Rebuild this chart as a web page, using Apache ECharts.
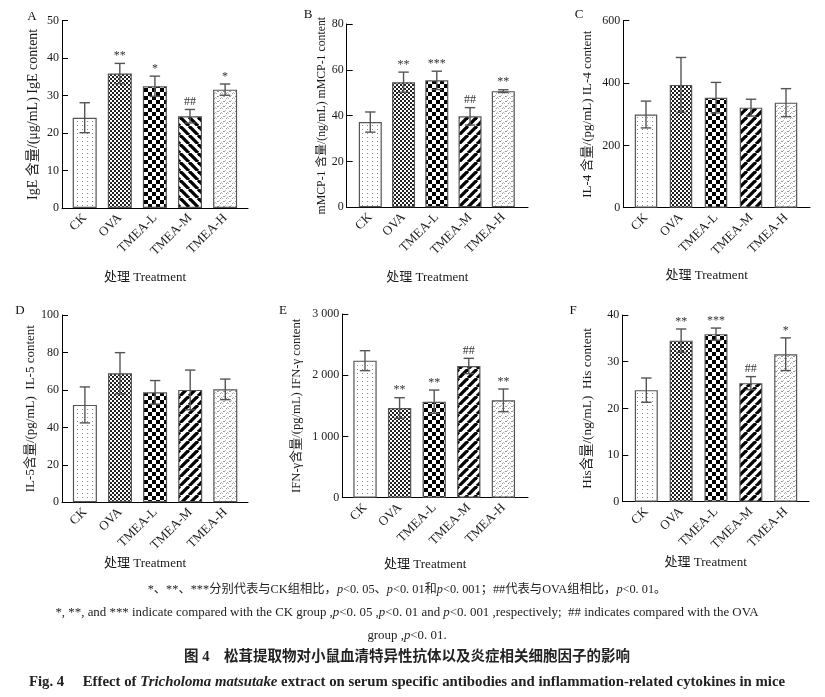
<!DOCTYPE html>
<html>
<head>
<meta charset="utf-8">
<script src="https://cdn.jsdelivr.net/npm/echarts@6/dist/echarts.min.js"></script>
<style>
html, body { margin: 0; padding: 0; background: #fff; }
#chart { width: 825px; height: 697px; }
</style>
</head>
<body>
<div id="chart"></div>
<script>
// 组别
var groups = ['CK', 'OVA', 'TMEA-L', 'TMEA-M', 'TMEA-H'];

// A IgE
var igeMean = [24.1, 35.9, 32.5, 24.5, 31.6];
var igeErr = [4.0, 2.7, 2.7, 1.8, 1.5];
var igeMark = ['', '**', '*', '##', '*'];
var igeTicks = [0, 50, 10];
// B mMCP-1
var mcpMean = [37.2, 54.6, 55.4, 39.7, 50.7];
var mcpErr = [4.4, 4.4, 4.0, 3.8, 0.6];
var mcpMark = ['', '**', '***', '##', '**'];
var mcpTicks = [0, 80, 20];
// C IL-4
var il4Mean = [299, 394, 353, 321, 337];
var il4Err = [43, 88, 49, 27, 45];
var il4Mark = ['', '', '', '', ''];
var il4Ticks = [0, 600, 200];
// D IL-5
var il5Mean = [52.0, 68.9, 58.7, 60.0, 60.3];
var il5Err = [9.6, 11.0, 6.3, 10.6, 5.5];
var il5Mark = ['', '', '', '', ''];
var il5Ticks = [0, 100, 20];
// E IFN-γ
var ifnMean = [2238, 1465, 1568, 2151, 1590];
var ifnErr = [163, 168, 190, 125, 185];
var ifnMark = ['', '**', '**', '##', '**'];
var ifnTicks = [0, 3000, 1000];
// F His
var hisMean = [23.9, 34.5, 35.9, 25.4, 31.6];
var hisErr = [2.6, 2.5, 1.3, 1.4, 3.5];
var hisMark = ['', '**', '***', '##', '*'];
var hisTicks = [0, 40, 10];

var SERIF = '"Liberation Serif", "Noto Sans CJK SC", serif';

// 填充图案
function tile(w, h, draw) {
    var c = document.createElement('canvas');
    c.width = w; c.height = h;
    var g = c.getContext('2d');
    g.fillStyle = '#fff';
    g.fillRect(0, 0, w, h);
    draw(g, w, h);
    return { image: c, repeat: 'repeat' };
}
var patDots = tile(5, 4, function(g) {
    g.fillStyle = '#888';
    g.fillRect(2, 1, 1, 1);
});
var patFine = tile(4, 4, function(g) {
    g.fillStyle = '#222';
    g.fillRect(0, 0, 2, 2);
    g.fillRect(2, 2, 2, 2);
});
var patCheck = tile(8, 8, function(g) {
    g.fillStyle = '#000';
    g.fillRect(0, 0, 4, 4);
    g.fillRect(4, 4, 4, 4);
});
function stripes(back) {
    return tile(9, 9, function(g, w, h) {
        g.strokeStyle = '#000';
        g.lineWidth = 3.3;
        for (var o = -w; o <= w; o += w) {
            g.beginPath();
            if (back) { g.moveTo(o, 0); g.lineTo(o + w, h); }
            else { g.moveTo(o, h); g.lineTo(o + w, 0); }
            g.stroke();
        }
    });
}
var patSpeck = tile(6, 5, function(g) {
    g.fillStyle = '#999';
    g.fillRect(1, 1, 2, 1);
    g.fillRect(4, 3, 1, 1);
    g.fillStyle = '#bbb';
    g.fillRect(0, 3, 1, 1);
    g.fillRect(3, 0, 1, 1);
    g.fillRect(5, 2, 1, 1);
});
var patsBack = [patDots, patFine, patCheck, stripes(true), patSpeck];
var patsFwd = [patDots, patFine, patCheck, stripes(false), patSpeck];

// 各子图布局
var panels = [
    { tag: 'A', name: 'IgE 含量/(μg/mL) IgE content', mean: igeMean, err: igeErr, mark: igeMark, ticks: igeTicks, pats: patsBack,
      ax: 62, top: 20.7, bottom: 208, right: 248, c0: 84.7, s: 35.1, bw: 24, ng: 22, nf: 14, xg: 63, lx: 32, ly: 17 },
    { tag: 'B', name: 'mMCP-1 含量/(ng/mL) mMCP-1 content', mean: mcpMean, err: mcpErr, mark: mcpMark, ticks: mcpTicks, pats: patsFwd,
      ax: 346.7, top: 24, bottom: 207.3, right: 528, c0: 370.3, s: 33.25, bw: 23, ng: 18, nf: 11.8, xg: 64, lx: 308, ly: 15 },
    { tag: 'C', name: 'IL-4 含量/(pg/mL) IL-4 content', mean: il4Mean, err: il4Err, mark: il4Mark, ticks: il4Ticks, pats: patsFwd,
      ax: 623.3, top: 20.7, bottom: 207.7, right: 810, c0: 646, s: 35, bw: 22.5, ng: 29, nf: 13, xg: 61, lx: 579, ly: 15 },
    { tag: 'D', name: 'IL-5含量/(pg/mL)  IL-5 content', mean: il5Mean, err: il5Err, mark: il5Mark, ticks: il5Ticks, pats: patsFwd,
      ax: 62, top: 315, bottom: 502.3, right: 248, c0: 84.9, s: 35.1, bw: 24, ng: 24, nf: 13, xg: 55, lx: 20, ly: 311 },
    { tag: 'E', name: 'IFN-γ含量/(pg/mL) IFN-γ content', mean: ifnMean, err: ifnErr, mark: ifnMark, ticks: ifnTicks, pats: patsFwd,
      ax: 342.3, top: 314, bottom: 497.7, right: 528, c0: 365, s: 34.6, bw: 23.3, ng: 39, nf: 12.6, xg: 60, lx: 283, ly: 311 },
    { tag: 'F', name: 'His含量/(ng/mL)  His content', mean: hisMean, err: hisErr, mark: hisMark, ticks: hisTicks, pats: patsFwd,
      ax: 622.3, top: 315, bottom: 501.7, right: 809, c0: 646.3, s: 34.85, bw: 23, ng: 28, nf: 13.3, xg: 54, lx: 573, ly: 311 }
];

function thousands(v) {
    return String(v).replace(/\B(?=(\d{3})+(?!\d))/g, ' ');
}

function errorBar(mark) {
    return function(params, api) {
        var i = api.value(0);
        var hi = api.coord([i, api.value(1) + api.value(2)]);
        var lo = api.coord([i, api.value(1) - api.value(2)]);
        var st = { stroke: '#555', lineWidth: 1.4 };
        var cw = 5.2;
        var ch = [
            { type: 'line', shape: { x1: hi[0], y1: hi[1], x2: lo[0], y2: lo[1] }, style: st },
            { type: 'line', shape: { x1: hi[0] - cw, y1: hi[1], x2: hi[0] + cw, y2: hi[1] }, style: st },
            { type: 'line', shape: { x1: lo[0] - cw, y1: lo[1], x2: lo[0] + cw, y2: lo[1] }, style: st }
        ];
        var m = mark[params.dataIndex];
        if (m) {
            ch.push({ type: 'text', x: hi[0], y: hi[1] - 1.5,
                style: { text: m, align: 'center', verticalAlign: 'bottom', fontSize: 12, fontFamily: SERIF, fill: '#333' } });
        }
        return { type: 'group', children: ch };
    };
}

var grid = [], xAxis = [], yAxis = [], series = [], graphic = [];
panels.forEach(function(p, k) {
    var gl = p.c0 - p.s / 2;
    // 柱状区
    grid.push({ left: gl, width: p.s * 5, top: p.top, height: p.bottom - p.top });
    // 长坐标轴线
    grid.push({ left: p.ax, width: p.right - p.ax, top: p.top, height: p.bottom - p.top });
    xAxis.push({
        type: 'category', gridIndex: 2 * k, data: groups,
        axisLine: { show: false }, axisTick: { show: false },
        axisLabel: { rotate: 45, margin: 8, fontSize: 13, fontFamily: SERIF, color: '#1a1a1a', interval: 0 }
    });
    xAxis.push({
        type: 'category', gridIndex: 2 * k + 1, data: groups,
        axisLine: { lineStyle: { color: '#000', width: 1 } }, axisTick: { show: false }, axisLabel: { show: false },
        name: '处理 Treatment', nameLocation: 'middle', nameGap: p.xg,
        nameTextStyle: { fontSize: 13, fontFamily: SERIF, color: '#1a1a1a', padding: [0, 20, 0, 0] }
    });
    yAxis.push({
        type: 'value', gridIndex: 2 * k, min: p.ticks[0], max: p.ticks[1], interval: p.ticks[2],
        offset: gl - p.ax,
        axisLine: { show: true, lineStyle: { color: '#000', width: 1 } },
        axisTick: { show: true, inside: true, length: 6, lineStyle: { color: '#000' } },
        axisLabel: { margin: 3, fontSize: 12, fontFamily: SERIF, color: '#1a1a1a', formatter: thousands },
        splitLine: { show: false },
        name: p.name, nameLocation: 'middle', nameRotate: 90, nameGap: p.ng,
        nameTextStyle: { fontSize: p.nf, fontFamily: SERIF, color: '#1a1a1a' }
    });
    yAxis.push({ type: 'value', gridIndex: 2 * k + 1, show: false });
    series.push({
        type: 'bar', xAxisIndex: 2 * k, yAxisIndex: 2 * k, barWidth: p.bw,
        data: p.mean.map(function(v, i) {
            return { value: v, itemStyle: { color: p.pats[i] } };
        }),
        itemStyle: { borderColor: '#555', borderWidth: 1.2 },
        emphasis: { disabled: true }
    });
    series.push({
        type: 'custom', xAxisIndex: 2 * k, yAxisIndex: 2 * k, z: 5,
        renderItem: errorBar(p.mark),
        data: p.mean.map(function(v, i) { return [i, v, p.err[i]]; })
    });
    graphic.push({ type: 'text', x: p.lx, y: p.ly,
        style: { text: p.tag, align: 'center', verticalAlign: 'middle', fontSize: 13, fontFamily: SERIF, fill: '#111' } });
});

// 图注
function capRich(size, bold) {
    return {
        i: { fontStyle: 'italic', fontWeight: bold ? 'bold' : 'normal', fontSize: size, fontFamily: SERIF, fill: '#222' }
    };
}
var capLines = [
    { y: 590, text: '*、**、***分别代表与CK组相比，{i|p}<0. 05、{i|p}<0. 01和{i|p}<0. 001；##代表与OVA组相比，{i|p}<0. 01。', size: 12.3, bold: false },
    { y: 613, text: '*, **, and *** indicate compared with the CK group ,{i|p}<0. 05 ,{i|p}<0. 01 and {i|p}<0. 001 ,respectively;  ## indicates compared with the OVA', size: 12.9, bold: false },
    { y: 636, text: 'group ,{i|p}<0. 01.', size: 12.9, bold: false },
    { y: 657, text: '图 4　松茸提取物对小鼠血清特异性抗体以及炎症相关细胞因子的影响', size: 14.5, bold: true },
    { y: 682, text: 'Fig. 4　 Effect of {i|Tricholoma matsutake} extract on serum specific antibodies and inflammation-related cytokines in mice', size: 14.8, bold: true }
];
capLines.forEach(function(c) {
    graphic.push({ type: 'text', x: 407, y: c.y,
        style: {
            text: c.text, align: 'center', verticalAlign: 'middle',
            fontSize: c.size, fontWeight: c.bold ? 'bold' : 'normal', fontFamily: SERIF, fill: '#222',
            rich: capRich(c.size, c.bold)
        } });
});

var myChart = echarts.init(document.getElementById('chart'));
myChart.setOption({
    animation: false,
    backgroundColor: '#fff',
    grid: grid,
    xAxis: xAxis,
    yAxis: yAxis,
    series: series,
    graphic: graphic
});
</script>
</body>
</html>
